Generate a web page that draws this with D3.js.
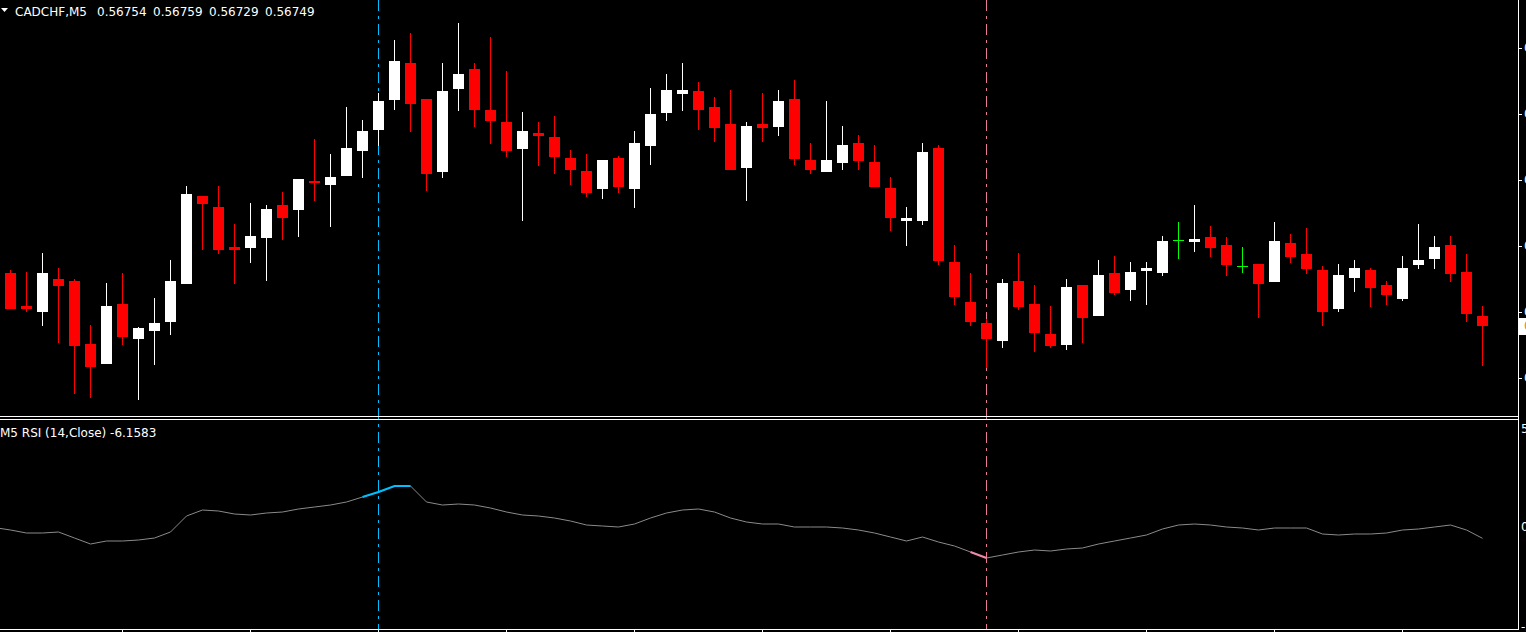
<!DOCTYPE html>
<html><head><meta charset="utf-8">
<script src="https://cdn.jsdelivr.net/npm/d3@7"></script>
<style>html,body{margin:0;padding:0;background:#000;overflow:hidden}</style>
</head><body>
<svg id="c" width="1526" height="632"></svg>
<script>
const symbol = "CADCHF,M5";
const opens = [0.567755,0.56759,0.56756,0.567725,0.567715,0.5674,0.5673,0.5676,0.567425,0.567465,0.56751,0.5677,0.56814,0.568085,0.567885,0.56788,0.56793,0.568095,0.56807,0.568215,0.568195,0.56824,0.568365,0.56847,0.56862,0.568805,0.568625,0.56826,0.568675,0.568775,0.56857,0.56851,0.568375,0.568455,0.568435,0.56833,0.568265,0.568175,0.56833,0.568175,0.56839,0.568555,0.56865,0.568665,0.568585,0.5685,0.56828,0.5685,0.568485,0.568625,0.56832,0.56826,0.568305,0.568405,0.56831,0.56818,0.568015,0.568015,0.56838,0.56781,0.56761,0.567505,0.567415,0.567715,0.5676,0.56745,0.567395,0.567695,0.56754,0.567755,0.56767,0.567765,0.567755,0.56792,0.56791,0.567935,0.567895,0.56779,0.5678,0.56771,0.567905,0.56785,0.56777,0.567575,0.56773,0.56777,0.567695,0.567625,0.567795,0.567825,0.567895,0.56776,0.56754];
const highs = [0.56777,0.56776,0.567855,0.56778,0.567725,0.567495,0.567705,0.567755,0.567485,0.56763,0.56782,0.56819,0.56814,0.56819,0.568,0.568105,0.568095,0.56816,0.568225,0.568425,0.56835,0.568585,0.56852,0.568655,0.56892,0.568955,0.568625,0.568805,0.569005,0.568805,0.568935,0.568765,0.56856,0.56851,0.56854,0.56837,0.56835,0.56832,0.56834,0.568465,0.56868,0.56875,0.568805,0.56871,0.568635,0.56867,0.56851,0.568655,0.56867,0.56872,0.568405,0.568615,0.56849,0.568445,0.568395,0.568235,0.568085,0.568405,0.568395,0.567895,0.567755,0.567525,0.567725,0.567855,0.567695,0.56759,0.567725,0.567695,0.56782,0.56784,0.56781,0.56781,0.56794,0.56801,0.568095,0.56799,0.567935,0.567885,0.5678,0.56801,0.56795,0.56798,0.56779,0.5678,0.56782,0.56778,0.567715,0.56784,0.568,0.56794,0.56794,0.56785,0.56759];
const lows = [0.567575,0.56756,0.56749,0.567405,0.56715,0.56713,0.5673,0.567395,0.56712,0.567295,0.567445,0.5677,0.56787,0.56785,0.5677,0.567805,0.567715,0.56792,0.567935,0.568115,0.567985,0.56824,0.56823,0.56839,0.56857,0.56846,0.568165,0.56823,0.568565,0.568485,0.5684,0.568335,0.568015,0.56829,0.56825,0.568195,0.568135,0.568125,0.568155,0.56808,0.568295,0.568515,0.568565,0.56847,0.56841,0.56827,0.568115,0.56841,0.56844,0.568295,0.56825,0.56826,0.56827,0.56827,0.568185,0.567965,0.56789,0.567995,0.567795,0.567595,0.56749,0.56728,0.56738,0.56757,0.56736,0.56738,0.56737,0.567405,0.56754,0.567645,0.567615,0.567595,0.56774,0.567825,0.56786,0.567835,0.56774,0.567755,0.56753,0.56771,0.567805,0.56775,0.56749,0.56756,0.56766,0.567585,0.567595,0.567615,0.567775,0.567775,0.56771,0.56751,0.56729];
const closes = [0.567575,0.567575,0.567755,0.56769,0.56739,0.567285,0.56759,0.567435,0.56748,0.567505,0.567715,0.56815,0.5681,0.56787,0.56787,0.56794,0.568075,0.56803,0.568225,0.568205,0.568235,0.56838,0.568465,0.568615,0.568815,0.5686,0.56825,0.568665,0.56875,0.56857,0.568515,0.568365,0.568465,0.56844,0.568335,0.56827,0.568155,0.56832,0.568185,0.568405,0.56855,0.56867,0.56867,0.56857,0.56848,0.56827,0.56849,0.56848,0.568615,0.568325,0.56827,0.56832,0.568395,0.568315,0.568185,0.56803,0.56803,0.56836,0.567815,0.567635,0.56751,0.567425,0.567705,0.567585,0.567455,0.56739,0.567685,0.56753,0.567745,0.567655,0.56776,0.56778,0.567915,0.56792,0.567925,0.56788,0.567795,0.56779,0.5677,0.567915,0.567835,0.567775,0.56756,0.567745,0.56778,0.56768,0.567645,0.56778,0.56782,0.567885,0.56775,0.56755,0.56749];
// RSI values; the first one belongs to the bar just left of the first visible candle
const rsiValues = [-0.8,-2,-3.5,-3.5,-3,-6,-9,-7.5,-7.5,-7,-6,-3,5,8,7.5,6,5.5,6.5,7,8.5,9.5,10.5,12,14.5,17,20,20,12,10.5,11,10.5,9,7,5.5,5,4,2.5,0.5,0,-0.5,1,4,6.5,8,8.5,7,4,2,1,1,-0.5,-0.5,-0.5,-1,-2,-3.5,-5.5,-7.5,-5.5,-8,-10,-13,-16,-14.5,-13,-12,-12.5,-11.5,-11,-9,-7.5,-6,-4.5,-1.5,0.5,1,0.5,-0.5,-1,-2,-1,-1,-1,-4,-4.5,-4,-4,-3.5,-2,-1.5,-0.5,0.5,-2,-6.1583];
const priceTicks = [0.56888,0.56855,0.56822,0.56789,0.56756,0.56723];
const rsiTicks = ["50","0","-50"];
const rsiTickValues = [50,0,-50];
const rsiName = "M5 RSI (14,Close)";
const blueBar = 23, pinkBar = 61;
const blueSpan = [22,25], pinkSpan = [60,61];
const timeTickBars = [7,15,23,31,39,47,55,63,71,79,87];

const svg = d3.select("#c");
const W = 1526, H = 632;
const mainTop = 0, mainBot = 416, rsiTop = 419, rsiBot = 629, axisX = 1518;
const n = opens.length;
const x = d3.scaleLinear().domain([0, n-1]).range([10.5, 10.5 + 16*(n-1)]);
const y = d3.scaleLinear().domain([0.56912, 0.56704]).range([0, 416]);
const yr = d3.scaleLinear().domain([50, -50]).range([426, 626]);

svg.append("rect").attr("width",W).attr("height",H).attr("fill","#000");
svg.append("defs").call(d=>{
  d.append("clipPath").attr("id","cm").append("rect").attr("x",0).attr("y",0).attr("width",axisX).attr("height",mainBot);
  d.append("clipPath").attr("id","cr").append("rect").attr("x",0).attr("y",rsiTop+1).attr("width",axisX).attr("height",rsiBot-rsiTop-1);
});

// vertical dashed marker lines
[[blueBar,"#00bfff"],[pinkBar,"#e87a98"]].forEach(([b,c])=>{
  svg.append("line").attr("x1",x(b)).attr("x2",x(b)).attr("y1",0).attr("y2",rsiBot)
    .attr("stroke",c).attr("stroke-width",1).attr("stroke-dasharray","11,5,3,5")
    .attr("shape-rendering","crispEdges");
});

// candles
const gm = svg.append("g").attr("clip-path","url(#cm)").attr("shape-rendering","crispEdges");
const idx = d3.range(n);
const col = i => opens[i]===closes[i] ? "#00ff00" : (closes[i] > opens[i] ? "#ffffff" : "#ff0000");
gm.selectAll("rect.w").data(idx).join("rect").attr("class","w")
  .attr("x", i => x(i)-0.5).attr("width",1)
  .attr("y", i => Math.round(y(highs[i])))
  .attr("height", i => Math.max(1, Math.round(y(lows[i])) - Math.round(y(highs[i]))))
  .attr("fill", col);
gm.selectAll("rect.b").data(idx).join("rect").attr("class","b")
  .attr("x", i => x(i)-5.5).attr("width",11)
  .attr("y", i => Math.round(Math.min(y(opens[i]), y(closes[i]))))
  .attr("height", i => Math.max(1, Math.round(Math.abs(y(opens[i]) - y(closes[i])))))
  .attr("fill", col);

// RSI line
const gr = svg.append("g").attr("clip-path","url(#cr)");
const rsiPts = rsiValues.map((v,k)=>[x(k-1), yr(v)]);
gr.append("path").attr("d", d3.line()(rsiPts)).attr("fill","none").attr("stroke","#8a8a8a").attr("stroke-width",1);
const seg = (s,c) => gr.append("path").attr("d", d3.line()(rsiPts.slice(s[0]+1, s[1]+2)))
  .attr("fill","none").attr("stroke",c).attr("stroke-width",2.2);
seg(blueSpan, "#00bfff");
seg(pinkSpan, "#f08aa6");

// frame
const fr = svg.append("g").attr("stroke","#fff").attr("stroke-width",1).attr("shape-rendering","crispEdges");
fr.append("line").attr("x1",0).attr("x2",axisX+0.5).attr("y1",mainBot+0.5).attr("y2",mainBot+0.5);
fr.append("line").attr("x1",0).attr("x2",axisX+0.5).attr("y1",rsiTop+0.5).attr("y2",rsiTop+0.5);
fr.append("line").attr("x1",0).attr("x2",axisX+0.5).attr("y1",rsiBot+0.5).attr("y2",rsiBot+0.5);
fr.append("line").attr("x1",axisX+0.5).attr("x2",axisX+0.5).attr("y1",0).attr("y2",rsiBot+1);
// time ticks
fr.selectAll("line.t").data(timeTickBars).join("line").attr("class","t")
  .attr("x1",b=>x(b)).attr("x2",b=>x(b)).attr("y1",rsiBot).attr("y2",H);
// price ticks
fr.selectAll("line.p").data(priceTicks).join("line").attr("class","p")
  .attr("x1",axisX).attr("x2",axisX+4).attr("y1",p=>Math.round(y(p))+0.5).attr("y2",p=>Math.round(y(p))+0.5);

const font = "'DejaVu Sans', Verdana, sans-serif";
svg.selectAll("text.p").data(priceTicks).join("text").attr("class","p")
  .attr("x",axisX+6).attr("y",p=>y(p)+4).attr("fill","#fff").attr("font-family",font).attr("font-size",12)
  .text(p=>p.toFixed(5));
// current price box
const lastC = closes[n-1];
svg.append("rect").attr("x",axisX+1).attr("y",Math.round(y(lastC))-8).attr("width",60).attr("height",17).attr("fill","#fff");
svg.append("text").attr("x",axisX+6).attr("y",y(lastC)+4).attr("fill","#e08030").attr("font-family",font).attr("font-size",12).text(lastC.toFixed(5));
// rsi labels
svg.selectAll("text.r").data(rsiTickValues).join("text").attr("class","r")
  .attr("x",axisX+3).attr("y",(v,k)=> k===0 ? yr(v)+7 : yr(v)+5).attr("fill","#fff").attr("font-family",font).attr("font-size",12)
  .text((v,k)=>rsiTicks[k]);

// header
svg.append("path").attr("d","M1,8 L8,8 L4.5,12 Z").attr("fill","#fff");
const ht = svg.append("text").attr("y",16).attr("fill","#fff").attr("font-family",font).attr("font-size",12);
ht.append("tspan").attr("x",15).text(symbol);
[opens[n-1],highs[n-1],lows[n-1],closes[n-1]].forEach((v,k)=>ht.append("tspan").attr("x",97+56*k).text(v.toFixed(5)));
svg.append("text").attr("x",0).attr("y",437).attr("fill","#fff").attr("font-family",font).attr("font-size",12)
  .text(rsiName + " " + rsiValues[rsiValues.length-1].toFixed(4));
</script>
</body></html>
